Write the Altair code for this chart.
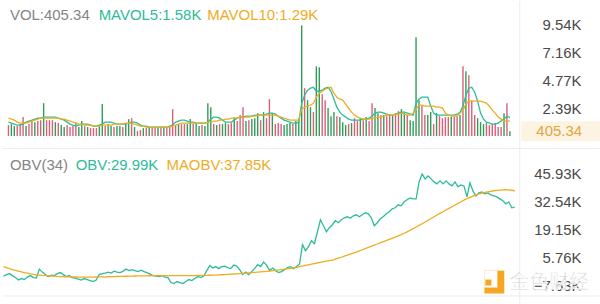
import altair as alt
import pandas as pd

# ---------------- data ----------------
vol = [
    940, 1020, 850, 850, 1020, 1620, 850, 1020, 1280, 1190,
    1280, 1360, 2810, 1360, 1360, 1360, 1190, 1110, 940, 770,
    940, 770, 850, 1190, 770, 1280, 850, 770, 680, 680,
    680, 850, 2730, 850, 1020, 850, 770, 850, 850, 770,
    1020, 1450, 1530, 770, 430, 510, 680, 680, 770, 680,
    680, 680, 680, 680, 680, 770, 2300, 940, 1020, 1020,
    1020, 1020, 1450, 1020, 1020, 850, 940, 850, 2810, 2470,
    1020, 940, 1020, 1020, 1110, 1020, 1110, 1620, 1280, 1790,
    2470, 1280, 1360, 1450, 1530, 1960, 1360, 2050, 1530, 3150,
    1960, 1020, 1110, 1020, 940, 1020, 1110, 1020, 1280, 1530,
    9460, 4090, 3070, 2470, 2050, 5960, 5880, 3580, 3070, 2390,
    1700, 2050, 1700, 1620, 1190, 940, 1020, 1110, 1530, 1280,
    1530, 1360, 1620, 1280, 2810, 2390, 1960, 1790, 1790, 1700,
    1870, 1790, 1960, 2130, 2300, 1960, 1790, 1360, 1280, 8440,
    3070, 2560, 1790, 1790, 2050, 1020, 1960, 1700, 1530, 1620,
    1620, 1620, 1620, 1700, 1790, 5960, 5540, 5200, 3070, 1790,
    1530, 1190, 1020, 1110, 940, 1020, 1110, 770, 770, 1960,
    2810, 405.34,
]

direction = list(
    "duuddduddu" "dduddduduu" "dddduududd" "duuduuduud" "uududdudud"
    "dududdddud" "duuduuduuu" "duduuddudd" "duduuududd" "uddduuuduu"
    "uduuduuddu" "uuduuududd" "ududduudud" "dudduuduuu" "udduududdd"
    "duddududdd" "uuuddddddu" "du"
)

mavol5 = [
    1190, 1110, 1020, 940, 940, 1020, 1190, 1280, 1360, 1450,
    1530, 1530, 1620, 1620, 1620, 1620, 1620, 1530, 1450, 1360,
    1190, 1020, 940, 850, 940, 1020, 1020, 1020, 940, 850,
    850, 940, 1020, 1190, 1190, 1190, 1110, 1020, 1020, 1020,
    1020, 1110, 1190, 1190, 1110, 940, 850, 850, 770, 770,
    770, 770, 770, 770, 770, 850, 940, 1190, 1280, 1360,
    1360, 1280, 1190, 1190, 1110, 1110, 1110, 1110, 1190, 1450,
    1620, 1620, 1530, 1360, 1190, 1190, 1190, 1360, 1530, 1620,
    1620, 1700, 1700, 1700, 1790, 1790, 1790, 1790, 1870, 1960,
    1960, 1870, 1700, 1530, 1360, 1280, 1190, 1110, 1110, 1190,
    2810, 3490, 3920, 4090, 4170, 3830, 3830, 3920, 4090, 4170,
    3830, 3150, 2470, 2040, 1790, 1620, 1450, 1360, 1360, 1360,
    1360, 1450, 1450, 1530, 1700, 1960, 2040, 2040, 1960, 1870,
    1790, 1790, 1870, 1960, 2040, 2040, 1960, 1870, 1790, 2810,
    3150, 3320, 3320, 3320, 2560, 1960, 1790, 1790, 1790, 1790,
    1790, 1790, 1790, 1870, 2040, 2560, 3490, 4090, 4170, 3750,
    2980, 1960, 1450, 1190, 1110, 1020, 1020, 1110, 1280, 1450,
    1700, 1580,
]

mavol10 = [
    1530, 1450, 1360, 1190, 1110, 1110, 1110, 1190, 1280, 1360,
    1450, 1530, 1530, 1530, 1530, 1530, 1530, 1530, 1450, 1450,
    1360, 1280, 1190, 1110, 1020, 1020, 940, 940, 940, 850,
    850, 850, 940, 940, 940, 940, 1020, 1020, 1020, 1020,
    1110, 1110, 1110, 1020, 940, 850, 850, 770, 770, 770,
    770, 770, 770, 770, 770, 770, 850, 940, 1020, 1110,
    1110, 1110, 1110, 1110, 1110, 1110, 1110, 1110, 1190, 1190,
    1280, 1280, 1360, 1360, 1450, 1450, 1530, 1530, 1530, 1620,
    1620, 1620, 1620, 1700, 1700, 1790, 1790, 1790, 1790, 1790,
    1790, 1790, 1700, 1620, 1530, 1450, 1360, 1360, 1360, 1360,
    2300, 2470, 2560, 2640, 2810, 3320, 3660, 3830, 4000, 4090,
    4170, 3660, 3320, 3150, 3070, 2730, 2390, 2040, 1790, 1620,
    1530, 1450, 1450, 1450, 1530, 1530, 1620, 1620, 1700, 1790,
    1790, 1790, 1870, 1870, 1960, 1870, 1790, 1790, 1960, 2300,
    2640, 2640, 2560, 2560, 2560, 2560, 2470, 2470, 2390, 1960,
    1790, 1700, 1700, 1700, 1960, 2220, 2730, 2980, 2980, 2980,
    2980, 2980, 2900, 2810, 2560, 2220, 1960, 1620, 1450, 1280,
    1280, 1290,
]

# OBV in thousands
obv = [
    -3.09, -2.37, -1.89, -2.85, -3.80, -5.00, -4.28, -4.76, -3.57, -2.85,
    -3.80, -4.04, 0.26, -1.17, -2.37, -3.33, -2.61, -2.85, -1.89, -1.41,
    -2.37, -3.33, -2.85, -3.80, -4.04, -4.52, -5.00, -4.28, -4.76, -5.24,
    -5.72, -5.00, -2.37, -1.89, -1.65, -1.17, -1.65, -0.70, -1.17, -1.41,
    -0.70, 0.26, -0.46, 0.02, -0.46, -0.93, -0.22, -0.93, -1.41, -2.13,
    -2.85, -3.09, -3.33, -2.85, -3.57, -3.80, -6.19, -6.67, -5.72, -6.19,
    -6.67, -5.72, -4.76, -5.24, -4.28, -3.33, -3.80, -3.09, -0.46, 1.94,
    0.74, 1.46, 0.50, 1.46, 1.70, 0.98, 0.50, 2.17, 1.70, 0.02,
    -2.37, -1.17, -2.37, -0.93, 0.50, 2.41, 1.46, 3.61, 2.17, -0.46,
    0.74, -0.46, -1.41, -0.93, 0.02, 0.98, 1.46, 0.50, 1.46, 2.65,
    11.98, 9.11, 11.02, 13.89, 12.46, 18.19, 23.93, 21.06, 18.19, 20.11,
    21.54, 23.46, 22.50, 23.93, 24.89, 25.37, 24.65, 25.85, 26.32, 25.37,
    26.32, 27.28, 26.80, 24.89, 21.06, 22.50, 24.41, 25.37, 26.80, 27.76,
    29.19, 29.67, 31.11, 30.63, 32.54, 33.50, 34.45, 33.97, 33.97, 42.10,
    45.93, 43.54, 44.97, 43.54, 42.10, 41.15, 42.58, 41.15, 42.58, 41.15,
    40.19, 42.10, 39.71, 40.67, 40.19, 34.93, 41.63, 37.80, 35.41, 36.84,
    37.32, 36.37, 36.84, 35.89, 35.41, 34.93, 33.97, 33.02, 31.58, 32.54,
    29.67, 29.99,
]

maobv = [
    1.45, 0.95, 0.45, 0.0, -0.35, -0.7, -1.05, -1.4, -1.7, -2.0,
    -2.25, -2.45, -2.6, -2.75, -2.85, -2.95, -3.05, -3.15, -3.25, -3.3,
    -3.35, -3.4, -3.45, -3.5, -3.52, -3.55, -3.57, -3.57, -3.57, -3.56,
    -3.55, -3.52, -3.5, -3.47, -3.44, -3.4, -3.36, -3.32, -3.28, -3.24,
    -3.2, -3.16, -3.12, -3.08, -3.05, -3.02, -3.0, -2.97, -2.95, -2.93,
    -2.91, -2.89, -2.87, -2.86, -2.85, -2.85, -2.85, -2.85, -2.85, -2.85,
    -2.85, -2.85, -2.85, -2.84, -2.82, -2.8, -2.78, -2.75, -2.72, -2.68,
    -2.63, -2.58, -2.52, -2.45, -2.37, -2.28, -2.18, -2.08, -1.98, -1.88,
    -1.78, -1.68, -1.57, -1.45, -1.33, -1.2, -1.07, -0.93, -0.8, -0.65,
    -0.5, -0.33, -0.15, 0.04, 0.24, 0.45, 0.67, 0.9, 1.13, 1.4,
    1.7, 2.0, 2.3, 2.6, 2.9, 3.2, 3.5, 3.8, 4.1, 4.35,
    4.6, 5.05, 5.5, 5.95, 6.45, 6.95, 7.45, 7.95, 8.45, 9.0,
    9.55, 10.1, 10.65, 11.2, 11.75, 12.3, 12.85, 13.4, 13.95, 14.5,
    15.05, 15.6, 16.2, 16.8, 17.45, 18.15, 18.9, 19.65, 20.45, 21.25,
    22.05, 22.85, 23.7, 24.55, 25.4, 26.2, 27.0, 27.8, 28.6, 29.4,
    30.2, 31.0, 31.8, 32.6, 33.35, 34.05, 34.7, 35.3, 35.85, 36.3,
    36.7, 37.05, 37.35, 37.6, 37.85, 38.05, 38.2, 38.3, 38.35, 38.3,
    38.1, 37.85,
]

vol_ticks = [2390, 4770, 7160, 9540]
obv_ticks = [-7.63, 5.76, 19.15, 32.54, 45.93]
obv_period = 34

# ---------------- styling ----------------
GREEN = "#2f9c57"
RED = "#da5f78"
TEAL = "#2dbb9a"
ORANGE = "#efac1f"
GRAY_TXT = "#858585"
AXIS_TXT = "#4a4a4a"
SEP = "#ececec"
FONT = "Liberation Sans"

N = len(vol)
df = pd.DataFrame({
    "i": list(range(N)), "vol": vol, "dir": direction,
    "ma5": mavol5, "ma10": mavol10, "obv": obv, "maobv": maobv,
})

W = 519
H1 = 148
H2 = 156
VOL_PER_PX = 85.2  # volume units per pixel in the top panel

xenc = alt.X("i:Q", scale=alt.Scale(domain=[-0.5, N + 0.5], nice=False, zero=False), axis=None)
vscale = alt.Scale(domain=[-1022, 11587], nice=False, zero=False)
oscale = alt.Scale(domain=[-16.24, 58.36], nice=False, zero=False)

def right_axis(values):
    return alt.Axis(
        orient="right", values=values, title=None, grid=False, ticks=False,
        labelExpr="format(datum.value >= 1000 ? datum.value/1000 : datum.value, '.2f') + 'K'",
        labelAlign="right", labelPadding=62, labelFontSize=15, labelColor=AXIS_TXT,
        labelFont=FONT, domainColor=SEP, domainWidth=1, labelOverlap=False,
        labelBound=False, labelFlush=False,
    )

vax = right_axis(vol_ticks)
oax = right_axis(obv_ticks)

base = alt.Chart(df)

bars = base.mark_bar(size=1.4).encode(
    x=xenc,
    y=alt.Y("vol:Q", scale=vscale, axis=vax),
    y2=alt.datum(0),
    color=alt.Color("dir:N", scale=alt.Scale(domain=["u", "d"], range=[GREEN, RED]), legend=None),
)
l5 = base.mark_line(color=TEAL, strokeWidth=1.3).encode(
    x=xenc, y=alt.Y("ma5:Q", scale=vscale, axis=vax))
l10 = base.mark_line(color=ORANGE, strokeWidth=1.3).encode(
    x=xenc, y=alt.Y("ma10:Q", scale=vscale, axis=vax))

last = pd.DataFrame({"v": [vol[-1]]})
tag_bg = alt.Chart(last).mark_rect(color="#fdf3e2").encode(
    y=alt.datum(vol[-1] - 10 * VOL_PER_PX, scale=vscale),
    y2=alt.datum(vol[-1] + 10 * VOL_PER_PX),
    x=alt.value(521), x2=alt.value(600))
tag_txt = alt.Chart(last).mark_text(align="right", baseline="middle", fontSize=15,
                                    font=FONT, color="#e5a43c").encode(
    y=alt.Y("v:Q", scale=vscale, axis=vax), x=alt.value(582),
    text=alt.Text("v:Q", format=".2f"))

def header(items, y):
    layers = []
    for txt, xpos, col in items:
        layers.append(
            alt.Chart(pd.DataFrame({"t": [txt]})).mark_text(
                align="left", baseline="middle", fontSize=15, font=FONT, color=col
            ).encode(x=alt.value(xpos), y=alt.value(y), text="t:N")
        )
    return layers

top_head = header([
    (f"VOL:{vol[-1]:.2f}", 8, GRAY_TXT),
    (f"MAVOL5:{mavol5[-1]/1000:.2f}K", 97, TEAL),
    (f"MAVOL10:{mavol10[-1]/1000:.2f}K", 206, ORANGE),
], 15)

top = alt.layer(bars, l5, l10, tag_bg, tag_txt, *top_head).properties(width=W, height=H1)

one = pd.DataFrame({"k": [0]})
sep1 = alt.Chart(one).mark_rule(color=SEP, strokeWidth=1).encode(
    x=alt.value(0.5), x2=alt.value(599.5), y=alt.value(0.5))
sep2 = alt.Chart(one).mark_rule(color=SEP, strokeWidth=1).encode(
    x=alt.value(0.5), x2=alt.value(599.5), y=alt.value(148.5))

obv_line = base.mark_line(color=TEAL, strokeWidth=1.3).encode(
    x=xenc, y=alt.Y("obv:Q", scale=oscale, axis=oax))
maobv_line = base.mark_line(color=ORANGE, strokeWidth=1.3).encode(
    x=xenc, y=alt.Y("maobv:Q", scale=oscale, axis=oax))

bot_head = header([
    (f"OBV({obv_period})", 8, GRAY_TXT),
    (f"OBV:{obv[-1]:.2f}K", 74, TEAL),
    (f"MAOBV:{maobv[-1]:.2f}K", 165, ORANGE),
], 17)

# watermark
logo_o = alt.Chart(one).mark_rect(color="#f5a623").encode(
    x=alt.value(484), x2=alt.value(504), y=alt.value(123), y2=alt.value(146))
logo_w = alt.Chart(one).mark_rect(color="white").encode(
    x=alt.value(484), x2=alt.value(497), y=alt.value(123), y2=alt.value(140))
logo_d = alt.Chart(one).mark_rect(color="#f5a623").encode(
    x=alt.value(485), x2=alt.value(491), y=alt.value(132), y2=alt.value(138))
wm = alt.Chart(pd.DataFrame({"t": ["金色财经"]})).mark_text(
    align="left", baseline="middle", fontSize=20, font="Noto Sans CJK SC",
    color="#c3c3c3", stroke="white", strokeWidth=0.8, opacity=0.95,
).encode(x=alt.value(509), y=alt.value(135), text="t:N")

bottom = alt.layer(sep1, sep2, obv_line, maobv_line, *bot_head,
                   logo_o, logo_w, logo_d, wm).properties(width=W, height=H2)

chart = alt.vconcat(top, bottom, spacing=0, bounds="flush").properties(
    padding=0, background="white"
).configure_view(stroke=None)

chart.save("out.html", embed_options={"renderer": "svg", "actions": False})
